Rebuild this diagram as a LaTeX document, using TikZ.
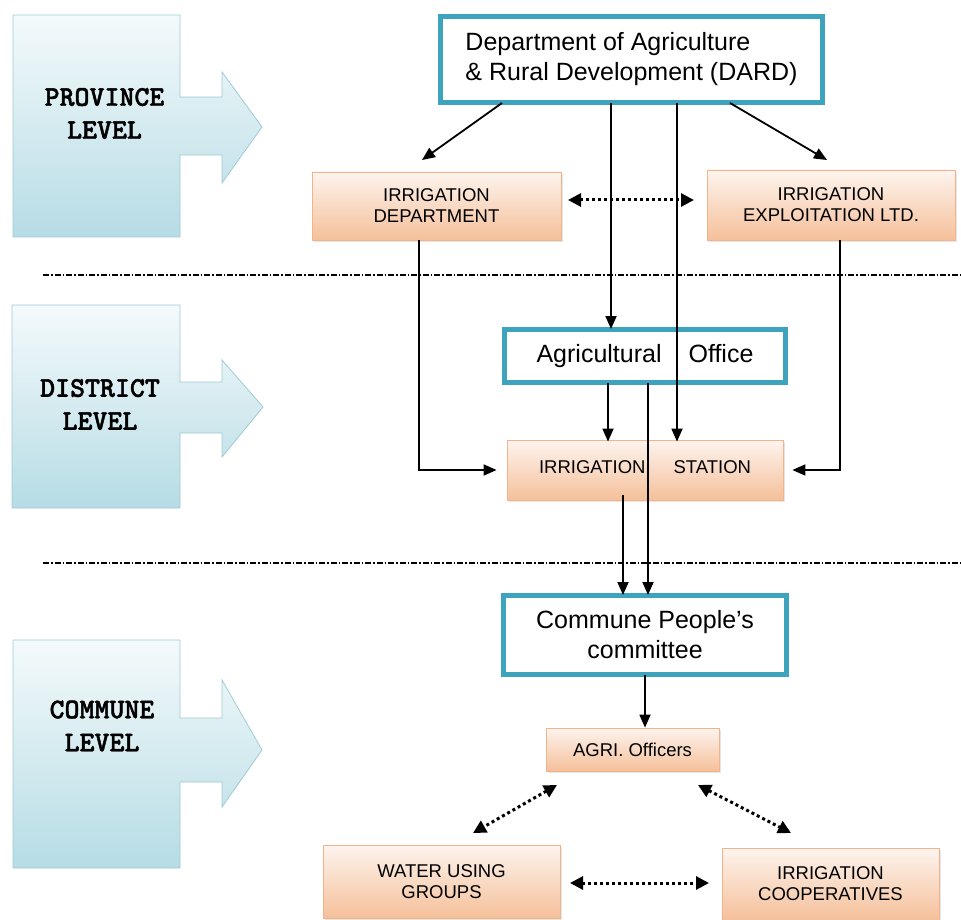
\documentclass[tikz,border=0pt]{standalone}
\usepackage{fontspec}
\usetikzlibrary{arrows.meta,shadows,calc}
\newfontfamily\boxfont{Liberation Sans}
\newfontfamily\lvfont{lmmonolt10-bold.otf}[FakeBold=1.6]
\definecolor{tealc}{HTML}{3EA3BC}
\definecolor{orline}{HTML}{F2B48C}
\definecolor{ortop}{HTML}{FDF4EE}
\definecolor{orbot}{HTML}{F5C09A}
\definecolor{lvtop}{HTML}{F4FAFB}
\definecolor{lvbot}{HTML}{B6DCE5}
\definecolor{lvline}{HTML}{9FCAD4}
\tikzset{
  tealbox/.style={draw=tealc, line width=5pt, fill=white, inner sep=0pt,
    font=\boxfont\fontsize{25}{30}\selectfont},
  orbox/.style={draw=orline, line width=0.8pt, top color=ortop, bottom color=orbot,
    inner sep=0pt, align=center, font=\boxfont\fontsize{18.5}{21}\selectfont,
    drop shadow={opacity=0.2, shadow xshift=1.5pt, shadow yshift=-2pt}},
  lvshape/.style={draw=lvline, line width=0.8pt, top color=lvtop, bottom color=lvbot},
  lvtext/.style={align=center, font=\lvfont\fontsize{28.5}{33}\selectfont},
  conn/.style={line width=1.8pt, -{Triangle[length=13pt,width=11pt]}},
  dotarrow/.style={line width=3pt, dash pattern=on 3pt off 3pt,
    {Triangle[length=13pt,width=13pt]}-{Triangle[length=13pt,width=13pt]}},
  sepline/.style={line width=1.4pt, dash pattern=on 6pt off 2pt on 1.5pt off 2pt}
}
\begin{document}
\begin{tikzpicture}[x=1pt,y=-1pt]
\useasboundingbox (0,0) rectangle (961,920);
% level arrows
\shade[lvshape] (13,15) -- (180,15) -- (180,97) -- (222,97) -- (222,72) -- (262,127)
  -- (222,183) -- (222,155) -- (180,155) -- (180,237) -- (13,237) -- cycle;
\shade[lvshape] (12,305) -- (180,305) -- (180,382) -- (222,382) -- (222,360) -- (263,407)
  -- (222,457) -- (222,433) -- (180,433) -- (180,508) -- (12,508) -- cycle;
\shade[lvshape] (13,640) -- (180,640) -- (180,718) -- (222,718) -- (222,680) -- (262,750)
  -- (222,807) -- (222,782) -- (180,782) -- (180,868) -- (13,868) -- cycle;
\node[lvtext] (lvprov) at (104.5,113.5) {PROVINCE\\LEVEL};
\node[lvtext] (lvdist) at (100,404.5) {DISTRICT\\LEVEL};
\node[lvtext] (lvcomm) at (102,726) {COMMUNE\\LEVEL};
% separators
\coordinate (s1a) at (43,275); \coordinate (s1b) at (961,275);
\coordinate (s2a) at (43,563); \coordinate (s2b) at (961,563);
\draw[sepline] (s1a) -- (s1b);
\draw[sepline] (s2a) -- (s2b);
% boxes
\node[tealbox, minimum width=382pt, minimum height=86pt, align=left] (dard) at (631.5,59.5)
  {Department of Agriculture\\\& Rural Development (DARD)};
\node[orbox, minimum width=249pt, minimum height=68pt] (irrdept) at (436.5,206)
  {IRRIGATION\\DEPARTMENT};
\node[orbox, minimum width=248pt, minimum height=70pt] (irrexp) at (831,205)
  {IRRIGATION\\EXPLOITATION LTD.};
\node[tealbox, minimum width=281pt, minimum height=53pt] (agri) at (645,356)
  {Agricultural\hspace{27pt}Office};
\node[orbox, minimum width=276pt, minimum height=60pt] (station) at (645,470)
  {\raisebox{6pt}{IRRIGATION\hspace{28pt}STATION}};
\node[tealbox, minimum width=283pt, minimum height=79pt, align=center] (commune) at (645,635)
  {Commune People’s\\committee};
\node[orbox, minimum width=173pt, minimum height=43pt] (agriof) at (632.5,749.5)
  {AGRI. Officers};
\node[orbox, minimum width=237pt, minimum height=73pt] (water) at (441.5,881.5)
  {WATER USING\\GROUPS};
\node[orbox, minimum width=217pt, minimum height=72pt] (coop) at (830.5,884)
  {IRRIGATION\\COOPERATIVES};
% helper coordinates
\coordinate (x502) at (502,0); \coordinate (x730) at (730,0);
\coordinate (x611) at (611,0); \coordinate (x677) at (677,0);
\coordinate (x608) at (608,0); \coordinate (x648) at (648,0);
\coordinate (x623) at (623,0); \coordinate (x419) at (419,0);
\coordinate (x840) at (840,0); \coordinate (x645) at (645,0);
\coordinate (dl) at (422,160); \coordinate (dr) at (827,160);
% connectors
\draw[conn] ([yshift=2pt]dard.south -| x502) -- (dl);
\draw[conn] ([yshift=2pt]dard.south -| x730) -- (dr);
\draw[conn] ([yshift=2pt]dard.south -| x611) -- ([yshift=-2pt]agri.north -| x611);
\draw[conn] ([yshift=2pt]dard.south -| x677) -- ([yshift=-2pt]station.north -| x677);
\draw[conn] ([yshift=2pt]agri.south -| x608) -- ([yshift=-2pt]station.north -| x608);
\draw[conn] ([yshift=2pt]agri.south -| x648) -- ([yshift=-2pt]commune.north -| x648);
\draw[conn] ([yshift=5pt]station.south -| x623) -- ([yshift=-2pt]commune.north -| x623);
\draw[conn] (irrdept.south -| x419) |- ([xshift=-10pt]station.west);
\draw[conn] (irrexp.south -| x840) |- ([xshift=9pt]station.east);
\draw[conn] ([yshift=2pt]commune.south -| x645) -- (agriof.north -| x645);
% dotted double arrows
\coordinate (d1a) at (568,200); \coordinate (d1b) at (694,200);
\draw[dotarrow] (d1a) -- (d1b);
\coordinate (d2a) at (557,785); \coordinate (d2b) at (473,833);
\draw[dotarrow] (d2a) -- (d2b);
\coordinate (d3a) at (698,785); \coordinate (d3b) at (791,833);
\draw[dotarrow] (d3a) -- (d3b);
\coordinate (d4a) at (570,883); \coordinate (d4b) at (709,883);
\draw[dotarrow] (d4a) -- (d4b);
\end{tikzpicture}
\end{document}
